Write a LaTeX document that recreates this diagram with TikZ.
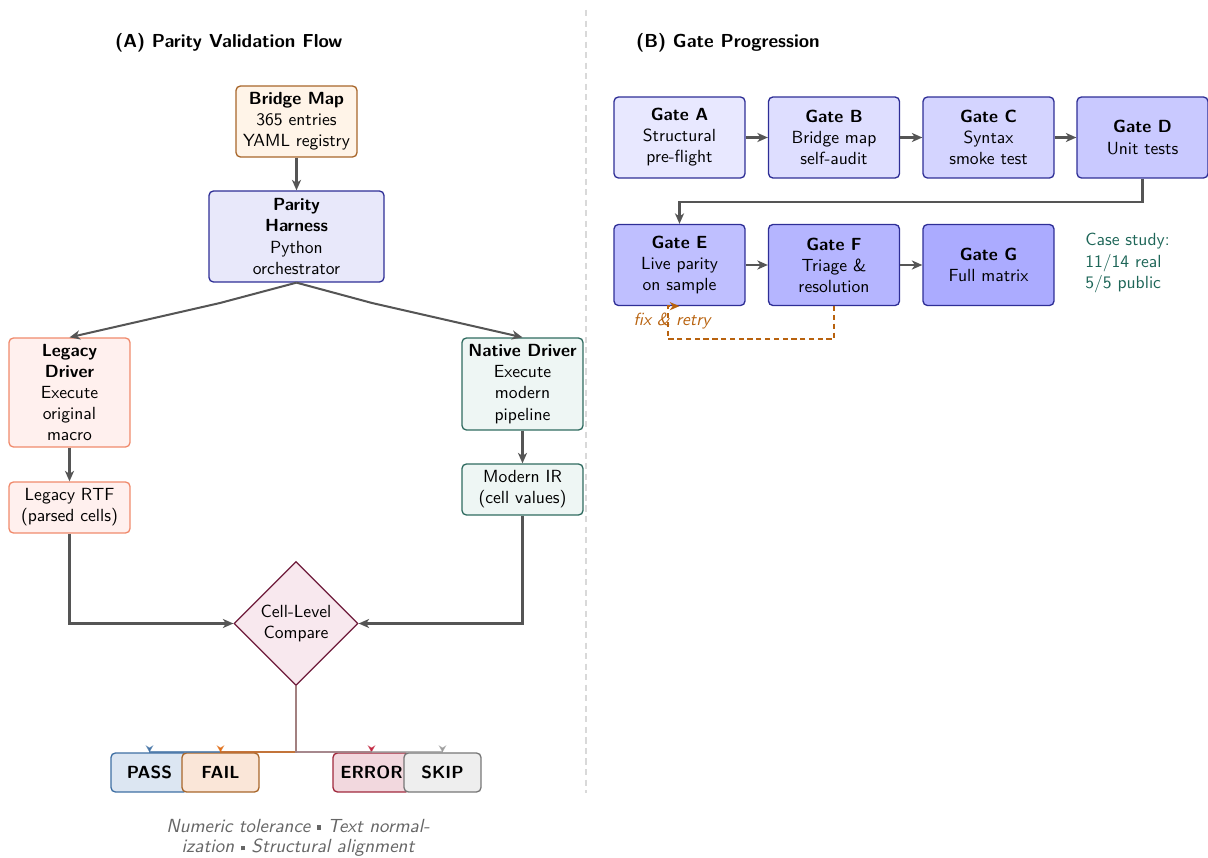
\documentclass[tikz,border=0pt]{standalone}
\usepackage{tikz}
\usetikzlibrary{arrows.meta,shapes.geometric}

\definecolor{arrowgray}{HTML}{555555}
\definecolor{mapfill}{HTML}{FFF4E8}
\definecolor{mapline}{HTML}{A8662A}
\definecolor{harnfill}{HTML}{E8E8FA}
\definecolor{navy}{HTML}{2E2E96}
\definecolor{legfill}{HTML}{FFF0EE}
\definecolor{legline}{HTML}{F08A6C}
\definecolor{natfill}{HTML}{EEF6F4}
\definecolor{natline}{HTML}{2F6B60}
\definecolor{cmpfill}{HTML}{F8E8EE}
\definecolor{cmpline}{HTML}{6E1A3A}
\definecolor{passfill}{HTML}{DCE6F2}
\definecolor{passline}{HTML}{3E6FA3}
\definecolor{failfill}{HTML}{FAE6D8}
\definecolor{failline}{HTML}{A8662A}
\definecolor{failtip}{HTML}{E06A10}
\definecolor{errfill}{HTML}{F2D8DE}
\definecolor{errline}{HTML}{A0283C}
\definecolor{errtip}{HTML}{C0203A}
\definecolor{skipfill}{HTML}{EEEEEE}
\definecolor{skipline}{HTML}{777777}
\definecolor{skiptip}{HTML}{999999}
\definecolor{fixcol}{HTML}{B8620E}
\definecolor{casecol}{HTML}{1E6658}
\definecolor{notecol}{HTML}{666666}

\newcommand{\sqdot}{\raisebox{0.3ex}{\rule{0.55ex}{0.55ex}}}

\tikzset{
  box/.style={draw, rounded corners=2.5pt, line width=0.75pt, align=center, inner sep=2pt, font=\sffamily},
  flowbox/.style={box, minimum width=2.42cm},
  gatebox/.style={box, draw=navy, fill=blue!#1!white, minimum width=2.62cm, minimum height=1.62cm},
  outbox/.style 2 args={box, draw=#1, fill=#2, font=\sffamily\bfseries, minimum width=1.54cm, minimum height=0.78cm},
  flow/.style={-{Stealth[length=6pt,width=5.2pt,inset=1.8pt]}, line width=1.15pt, draw=arrowgray},
  tip/.style={-{Stealth[length=4pt,width=4.4pt,inset=1.3pt]}, line width=1pt, draw=#1, opacity=0.75},
  heading/.style={font=\fontsize{10.7}{13}\sffamily\bfseries, anchor=west}
}

\begin{document}
\begin{tikzpicture}[x=0.02cm, y=-0.02cm]
\useasboundingbox (0,0) rectangle (1208,858);

% divider
\draw[gray!30, line width=0.6pt, dash pattern=on 3.5pt off 2.5pt] (586,10) -- (586,793);

% (A) parity validation flow
\node[heading] (titleA) at (109,43) {(A) Parity Validation Flow};
\node[flowbox, draw=mapline, fill=mapfill, minimum height=1.42cm] (map) at (296.5,121.5)
  {\textbf{Bridge Map}\\365 entries\\YAML registry};
\node[box, draw=navy, fill=harnfill, minimum width=3.5cm, minimum height=1.82cm] (harness) at (296.5,236.5)
  {\textbf{Parity}\\\textbf{Harness}\\Python\\orchestrator};
\node[flowbox, draw=legline, fill=legfill, minimum height=2.18cm] (legacy) at (69.5,392.5)
  {\textbf{Legacy}\\\textbf{Driver}\\Execute\\original\\macro};
\node[flowbox, draw=natline, fill=natfill, minimum height=1.84cm] (native) at (522.5,384)
  {\textbf{Native Driver}\\Execute\\modern\\pipeline};
\node[flowbox, draw=legline, fill=legfill, minimum height=1.02cm] (rtf) at (69.5,507.5)
  {Legacy RTF\\(parsed cells)};
\node[flowbox, draw=natline, fill=natfill, minimum height=1.02cm] (ir) at (522.5,489.5)
  {Modern IR\\(cell values)};
\node[diamond, draw=cmpline, fill=cmpfill, line width=0.75pt, shape aspect=1, minimum size=2.48cm,
  inner sep=0pt, align=center, font=\sffamily] (cmp) at (296,623.5) {Cell-Level\\Compare};

\node[outbox={passline}{passfill}] (pass) at (149.5,772.5) {PASS};
\node[outbox={failline}{failfill}] (fail) at (220.5,772.5) {FAIL};
\node[outbox={errline}{errfill}] (error) at (371.5,772.5) {ERROR};
\node[outbox={skipline}{skipfill}] (skip) at (442.5,772.5) {SKIP};

\node[font=\fontsize{10.8}{11.6}\sffamily\itshape, text=notecol, align=center, inner sep=0pt] (note) at (298,838)
  {Numeric tolerance \sqdot{} Text normal-\\ization \sqdot{} Structural alignment};

\coordinate (kinkL) at (220,303);
\coordinate (kinkR) at (372,303);
\draw[flow] (map) -- (harness);
\draw[flow] (harness.south) -- (kinkL) -- (legacy.north);
\draw[flow] (harness.south) -- (kinkR) -- (native.north);
\draw[flow] (legacy) -- (rtf);
\draw[flow] (native) -- (ir);
\draw[flow] (rtf.south) |- (cmp.west);
\draw[flow] (ir.south) |- (cmp.east);
\draw[tip=passline] (cmp.south) -- ++(0,66) -| (pass.north);
\draw[tip=failtip] (cmp.south) -- ++(0,66) -| (fail.north);
\draw[tip=errtip] (cmp.south) -- ++(0,66) -| (error.north);
\draw[tip=skiptip] (cmp.south) -- ++(0,66) -| (skip.north);

% (B) gate progression
\node[heading] (titleB) at (630,43) {(B) Gate Progression};
\node[gatebox=9] (gA) at (679.5,137.5) {\textbf{Gate A}\\Structural\\pre-flight};
\node[gatebox=13] (gB) at (834,137.5) {\textbf{Gate B}\\Bridge map\\self-audit};
\node[gatebox=17] (gC) at (988.5,137.5) {\textbf{Gate C}\\Syntax\\smoke test};
\node[gatebox=21] (gD) at (1142.5,137.5) {\textbf{Gate D}\\Unit tests};
\node[gatebox=25] (gE) at (679.5,265) {\textbf{Gate E}\\Live parity\\on sample};
\node[gatebox=29] (gF) at (834,265) {\textbf{Gate F}\\Triage \&\\resolution};
\node[gatebox=33] (gG) at (988.5,265) {\textbf{Gate G}\\Full matrix};

\node[font=\sffamily, text=casecol, align=left, anchor=west, inner sep=0pt] (case) at (1085,263)
  {Case study:\\11/14 real\\5/5 public};

\draw[flow] (gA) -- (gB);
\draw[flow] (gB) -- (gC);
\draw[flow] (gC) -- (gD);
\draw[flow] (gD.south) -- ++(0,23) -| (gE.north);
\draw[flow] (gE) -- (gF);
\draw[flow] (gF) -- (gG);

\coordinate (retry) at (668,339);
\draw[-{Stealth[length=5.5pt,width=4.6pt,inset=1.6pt]}, draw=fixcol, line width=0.9pt, dash pattern=on 3pt off 2pt]
  (gF.south) |- (retry) |- (gE.south);
\node[font=\sffamily\itshape, text=fixcol] (fixlbl) at (672,321) {fix \& retry};
\end{tikzpicture}
\end{document}
